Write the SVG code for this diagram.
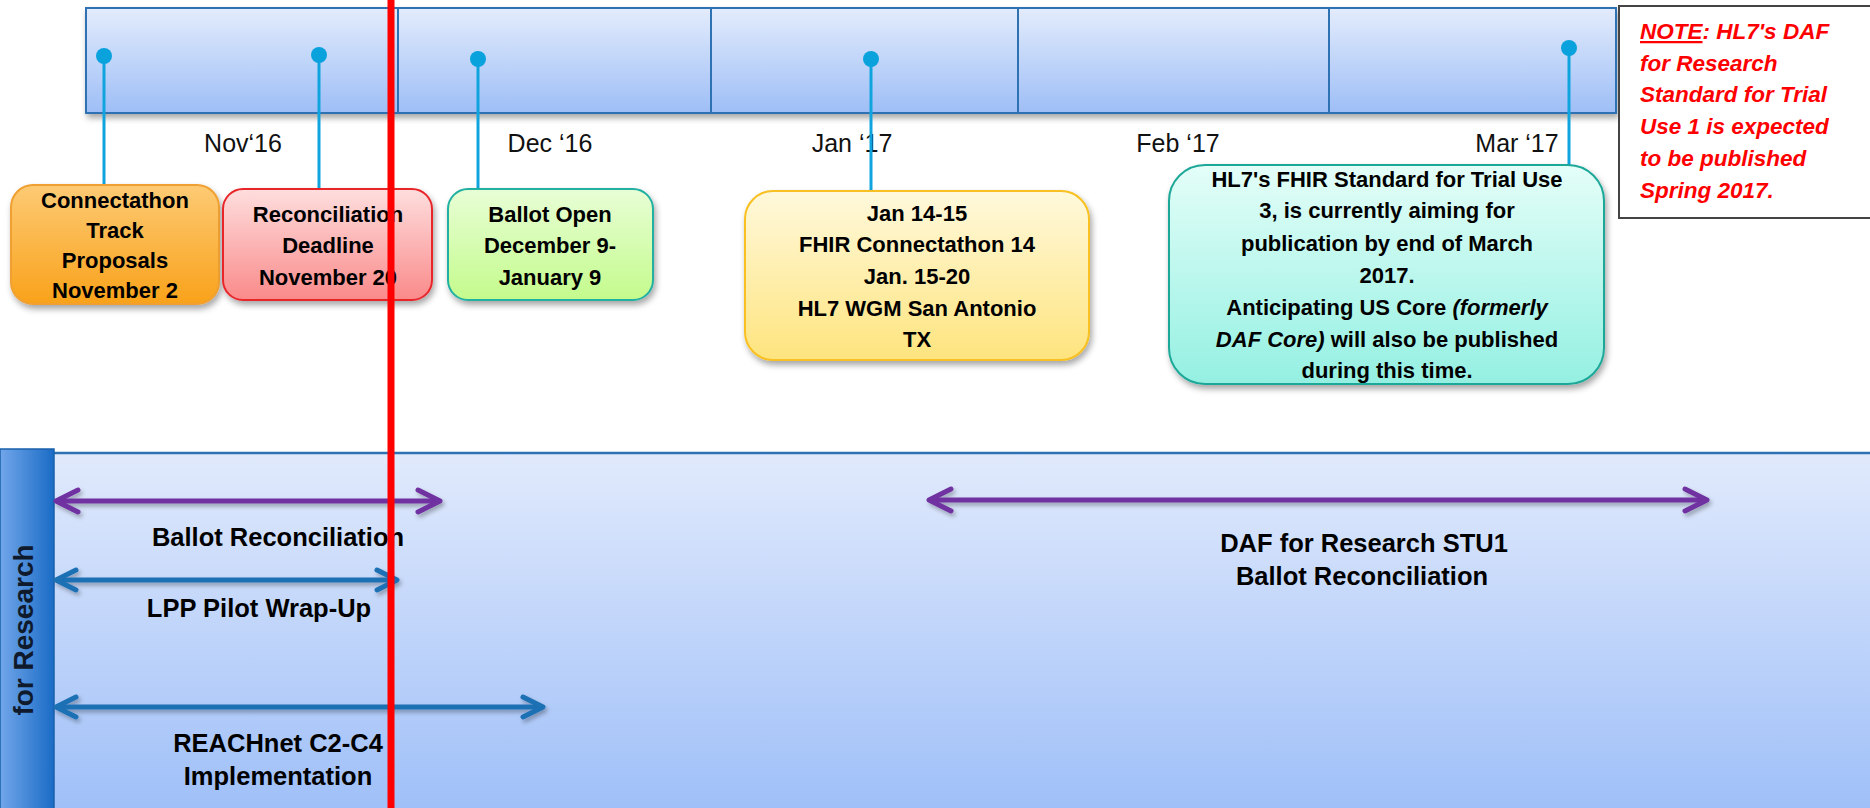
<svg xmlns="http://www.w3.org/2000/svg" width="1870" height="808" viewBox="0 0 1870 808">
<defs>
<style>
.seg{fill:url(#gSeg);stroke:#2f72b4;stroke-width:2}
.month{font-family:"Liberation Sans",Arial,sans-serif;font-size:25px;fill:#111;text-anchor:middle}
.bt{font-family:"Liberation Sans",Arial,sans-serif;font-size:22px;font-weight:bold;fill:#000;text-anchor:middle}
.lt{font-family:"Liberation Sans",Arial,sans-serif;font-size:25.5px;font-weight:bold;fill:#000;text-anchor:middle}
.note{font-family:"Liberation Sans",Arial,sans-serif;font-size:22.5px;font-weight:bold;font-style:italic;fill:#ff0000}
.stem{stroke:#10a4de;stroke-width:3;fill:none}
.dot{fill:#0aa2dd}
.purple{stroke:#7030a0;stroke-width:5;fill:none;marker-start:url(#mP);marker-end:url(#mP)}
.blue{stroke:#1f6fb4;stroke-width:5;fill:none;marker-start:url(#mB);marker-end:url(#mB)}
</style>
<linearGradient id="gSeg" x1="0" y1="0" x2="0" y2="1"><stop offset="0" stop-color="#e3ecfc"/><stop offset="1" stop-color="#9ebef6"/></linearGradient>
<linearGradient id="gBand" x1="0" y1="0" x2="0" y2="1"><stop offset="0" stop-color="#e1eafc"/><stop offset="1" stop-color="#9ebff8"/></linearGradient>
<linearGradient id="gSide" x1="0" y1="0" x2="1" y2="0"><stop offset="0" stop-color="#72a6ea"/><stop offset="1" stop-color="#1a6cc6"/></linearGradient>
<linearGradient id="gOr" x1="0" y1="0" x2="0" y2="1"><stop offset="0" stop-color="#fdca74"/><stop offset="1" stop-color="#f9a21a"/></linearGradient>
<linearGradient id="gRd" x1="0" y1="0" x2="0" y2="1"><stop offset="0" stop-color="#fedede"/><stop offset="1" stop-color="#fa8a8a"/></linearGradient>
<linearGradient id="gGr" x1="0" y1="0" x2="0" y2="1"><stop offset="0" stop-color="#e8fed6"/><stop offset="1" stop-color="#c4fb8c"/></linearGradient>
<linearGradient id="gYe" x1="0" y1="0" x2="0" y2="1"><stop offset="0" stop-color="#fff9dc"/><stop offset="1" stop-color="#fee47e"/></linearGradient>
<linearGradient id="gTe" x1="0" y1="0" x2="0" y2="1"><stop offset="0" stop-color="#e4fef8"/><stop offset="1" stop-color="#94f0e2"/></linearGradient>
<filter id="sh" x="-10%" y="-10%" width="120%" height="130%"><feDropShadow dx="2" dy="4" stdDeviation="3" flood-color="#000" flood-opacity="0.35"/></filter>
<filter id="ash" x="-5%" y="-100%" width="110%" height="300%"><feDropShadow dx="2" dy="3" stdDeviation="2" flood-color="#000" flood-opacity="0.3"/></filter>
<marker id="mP" markerUnits="userSpaceOnUse" markerWidth="30" markerHeight="30" refX="0" refY="0" orient="auto-start-reverse" overflow="visible"><path d="M-22,-11 L0,0 L-22,11" fill="none" stroke="#7030a0" stroke-width="5" stroke-linecap="round" stroke-linejoin="round"/></marker>
<marker id="mB" markerUnits="userSpaceOnUse" markerWidth="30" markerHeight="30" refX="0" refY="0" orient="auto-start-reverse" overflow="visible"><path d="M-20,-10 L0,0 L-20,10" fill="none" stroke="#1f6fb4" stroke-width="5" stroke-linecap="round" stroke-linejoin="round"/></marker>
</defs>
<rect width="1870" height="808" fill="#ffffff"/>

<g id="timeline" filter="url(#sh)">
<rect class="seg" x="86" y="8" width="312" height="105"/>
<rect class="seg" x="398" y="8" width="313" height="105"/>
<rect class="seg" x="711" y="8" width="307" height="105"/>
<rect class="seg" x="1018" y="8" width="311" height="105"/>
<rect class="seg" x="1329" y="8" width="287" height="105"/>
</g>

<g id="month-labels">
<text class="month" x="243" y="152">Nov‘16</text>
<text class="month" x="550" y="152">Dec ‘16</text>
<text class="month" x="852" y="152">Jan ‘17</text>
<text class="month" x="1178" y="152">Feb ‘17</text>
<text class="month" x="1517" y="152">Mar ‘17</text>
</g>

<g id="band">
<rect x="54" y="453" width="1820" height="360" fill="url(#gBand)"/>
<line x1="54" y1="453" x2="1870" y2="453" stroke="#2f72b4" stroke-width="2.5"/>
<rect x="0" y="449" width="54" height="365" fill="url(#gSide)" stroke="#1a60ac" stroke-width="1.5"/>
<text x="0" y="0" transform="translate(33,630) rotate(-90)" font-family="'Liberation Sans',Arial,sans-serif" font-size="28" font-weight="bold" fill="#0f1a2c" text-anchor="middle">for Research</text>
</g>

<g id="connectors">
<line class="stem" x1="104" y1="56" x2="104" y2="185"/>
<line class="stem" x1="319" y1="55" x2="319" y2="189"/>
<line class="stem" x1="478" y1="59" x2="478" y2="189"/>
<line class="stem" x1="871" y1="59" x2="871" y2="191"/>
<line class="stem" x1="1569" y1="48" x2="1569" y2="166"/>
<circle class="dot" cx="104" cy="56" r="8"/>
<circle class="dot" cx="319" cy="55" r="8"/>
<circle class="dot" cx="478" cy="59" r="8"/>
<circle class="dot" cx="871" cy="59" r="8"/>
<circle class="dot" cx="1569" cy="48" r="8"/>
<g filter="url(#ash)">
<line class="purple" x1="56" y1="501" x2="440" y2="501"/>
<line class="blue" x1="56" y1="580" x2="397" y2="580"/>
<line class="blue" x1="56" y1="707" x2="543" y2="707"/>
<line class="purple" x1="929" y1="500" x2="1707" y2="500"/>
</g>
</g>

<g id="node-connectathon">
<rect x="11" y="185" width="208" height="119" rx="22" fill="url(#gOr)" stroke="#f0a030" stroke-width="2" filter="url(#sh)"/>
<text class="bt" x="115" y="208">Connectathon</text>
<text class="bt" x="115" y="238">Track</text>
<text class="bt" x="115" y="268">Proposals</text>
<text class="bt" x="115" y="298">November 2</text>
</g>

<g id="node-reconciliation">
<rect x="223" y="189" width="209" height="111" rx="20" fill="url(#gRd)" stroke="#e8282c" stroke-width="2" filter="url(#sh)"/>
<text class="bt" x="328" y="222">Reconciliation</text>
<text class="bt" x="328" y="253">Deadline</text>
<text class="bt" x="328" y="285">November 20</text>
</g>

<g id="node-ballot-open">
<rect x="448" y="189" width="205" height="111" rx="20" fill="url(#gGr)" stroke="#22b0a2" stroke-width="2" filter="url(#sh)"/>
<text class="bt" x="550" y="222">Ballot Open</text>
<text class="bt" x="550" y="253">December 9-</text>
<text class="bt" x="550" y="285">January 9</text>
</g>

<g id="node-connectathon14">
<rect x="745" y="191" width="344" height="169" rx="28" fill="url(#gYe)" stroke="#f8c020" stroke-width="2" filter="url(#sh)"/>
<text class="bt" x="917" y="221">Jan 14-15</text>
<text class="bt" x="917" y="252">FHIR Connectathon 14</text>
<text class="bt" x="917" y="284">Jan. 15-20</text>
<text class="bt" x="917" y="316">HL7 WGM San Antonio</text>
<text class="bt" x="917" y="347">TX</text>
</g>

<g id="node-stu3">
<rect x="1169" y="165" width="435" height="219" rx="36" fill="url(#gTe)" stroke="#1fa898" stroke-width="2" filter="url(#sh)"/>
<text class="bt" x="1387" y="187">HL7's FHIR Standard for Trial Use</text>
<text class="bt" x="1387" y="218">3, is currently aiming for</text>
<text class="bt" x="1387" y="251">publication by end of March</text>
<text class="bt" x="1387" y="283">2017.</text>
<text class="bt" x="1387" y="315">Anticipating US Core <tspan font-style="italic">(formerly</tspan></text>
<text class="bt" x="1387" y="347"><tspan font-style="italic">DAF Core)</tspan> will also be published</text>
<text class="bt" x="1387" y="378">during this time.</text>
</g>

<g id="node-note">
<rect x="1619" y="6" width="260" height="212" fill="#ffffff" stroke="#444444" stroke-width="2"/>
<text class="note" x="1640" y="39"><tspan text-decoration="underline">NOTE</tspan>: HL7's DAF</text>
<text class="note" x="1640" y="71">for Research</text>
<text class="note" x="1640" y="102">Standard for Trial</text>
<text class="note" x="1640" y="134">Use 1 is expected</text>
<text class="note" x="1640" y="166">to be published</text>
<text class="note" x="1640" y="198">Spring 2017.</text>
</g>

<g id="bar-labels">
<text class="lt" x="278" y="546">Ballot Reconciliation</text>
<text class="lt" x="259" y="617">LPP Pilot  Wrap-Up</text>
<text class="lt" x="278" y="752">REACHnet C2-C4</text>
<text class="lt" x="278" y="785">Implementation</text>
<text class="lt" x="1364" y="552">DAF for Research STU1</text>
<text class="lt" x="1362" y="585">Ballot Reconciliation</text>
</g>

<g id="today-line">
<rect x="387.5" y="0" width="7" height="808" fill="#ff0000"/>
</g>
</svg>
